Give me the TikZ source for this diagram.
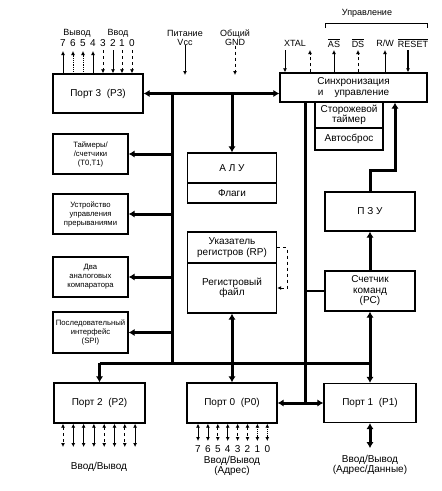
\documentclass[tikz,border=0pt]{standalone}
\usepackage{fontspec}
\setmainfont{Liberation Sans}
\usetikzlibrary{arrows.meta}

\tikzstyle{block}=[draw, line width=1.4pt, inner sep=0pt, align=center, font=\fontsize{10}{10.5}\selectfont]
\tikzstyle{side-block}=[block, minimum width=75pt, minimum height=40pt, font=\fontsize{7.7}{9}\selectfont]
\tikzstyle{pin-label}=[inner sep=0pt, font=\fontsize{10}{10}\selectfont]
\tikzstyle{top-label}=[inner sep=0pt, align=center, font=\fontsize{9}{9}\selectfont]
\tikzstyle{bus}=[line width=3pt]
\tikzstyle{bus-in}=[-{Latex[length=6pt,width=7.5pt]}]
\tikzstyle{bus-both}=[{Latex[length=6pt,width=7.5pt]}-{Latex[length=6pt,width=7.5pt]}]
\tikzstyle{pin}=[line width=0.8pt]

\begin{document}
\begin{tikzpicture}[x=1pt, y=-1pt, >={Latex[length=4pt,width=4pt]}]
      \useasboundingbox (0,0) rectangle (442,491);

      % port 3 and the peripheral blocks on the left
      \node (port3) at (98,93.5) [block, minimum width=90pt, minimum height=39pt] {Порт 3\ \ (P3)};
      \node (timers) at (90.5,154) [side-block] {Таймеры/\\/счетчики\\(T0,T1)};
      \node (irq) at (90.5,214) [side-block] {Устройство\\управления\\прерываниями};
      \node (comp) at (90.5,277) [side-block] {Два\\аналоговых\\компаратора};
      \node (spi) at (90.5,332.5) [side-block, minimum height=41pt] {Последовательный\\интерфейс\\(SPI)};

      % core
      \node (alu) at (232,168) [block, minimum width=89pt, minimum height=30pt] {А\ Л\ У};
      \node (flags) at (232,193) [block, minimum width=89pt, minimum height=20pt] {Флаги};
      \node (rp) at (232,247.5) [block, minimum width=89pt, minimum height=31pt] {Указатель\\регистров (RP)};
      \node (regfile) at (232,288) [block, minimum width=89pt, minimum height=50pt] {Регистровый\\файл};

      % control side
      \node (sync) at (353.5,87.5) [block, minimum width=147pt, minimum height=29pt] {Синхронизация\\и\ \ \ \ управление};
      \node (wdt) at (349,115) [block, minimum width=68pt, minimum height=26pt] {Сторожевой\\таймер};
      \node (autoreset) at (349,139) [block, minimum width=68pt, minimum height=22pt] {Автосброс};
      \node (rom) at (370,211.5) [block, minimum width=90pt, minimum height=39pt] {П\ З\ У};
      \node (pc) at (370,291) [block, minimum width=90pt, minimum height=40pt] {Счетчик\\команд\\(PC)};

      % ports at the bottom
      \node (port2) at (99.5,403) [block, minimum width=91pt, minimum height=40pt] {Порт 2\ \ (P2)};
      \node (port0) at (232,403) [block, minimum width=90pt, minimum height=40pt] {Порт 0\ \ (P0)};
      \node (port1) at (370,403) [block, minimum width=92pt, minimum height=39pt] {Порт 1\ \ (P1)};

      % buses
      \coordinate (bus-top) at (172,93.5);
      \coordinate (bus-low) at (172,363);
      \coordinate (bus-right) at (305,403);
      \coordinate (rom-bend) at (395,170);
      \draw[bus, bus-both] (port3.east) -- (port3.east -| sync.west);
      \draw[bus] (bus-top) -- (bus-low);
      \draw[bus, bus-in] (bus-top |- timers.east) -- (timers.east);
      \draw[bus, bus-in] (bus-top |- irq.east) -- (irq.east);
      \draw[bus, bus-in] (bus-top |- comp.east) -- (comp.east);
      \draw[bus, bus-in] (bus-top |- spi.east) -- (spi.east);
      \draw[bus, bus-in] (alu.north |- bus-top) -- (alu.north);
      \draw[bus] (port2.north |- bus-low) -- (pc.south |- bus-low);
      \draw[bus, bus-in] (port2.north |- bus-low) -- (port2.north);
      \draw[bus, bus-both] (regfile.south) -- (port0.north);
      \draw[bus] (bus-right |- sync.south) -- (bus-right);
      \draw[bus, bus-both] (port0.east) -- (port1.west);
      \draw[line width=1.8pt] (bus-right |- pc.west) -- (pc.west);
      \draw[bus, bus-in] (pc.north) -- (rom.south);
      \draw[bus, bus-both] (pc.south) -- (port1.north);
      \draw[bus, bus-in] (rom.north) |- (rom-bend) -- (rom-bend |- sync.south);
      \draw[pin, dashed, ->] (rp.east) -- ++(10,0) |- (regfile.east);

      % port 3 pins
      \node (lbl-out3) at (77,33) [top-label] {Вывод};
      \node (lbl-in3) at (118,33) [top-label] {Ввод};
      \foreach \d/\x/\s in {7/63/solid, 6/73/densely dotted, 5/83/densely dotted, 4/93/solid}{
        \node (num3-\d) at (\x,43) [pin-label] {\d};
        \coordinate (pin3-\d) at (\x,51);
        \draw[pin, \s, ->] (pin3-\d |- port3.north) -- (pin3-\d);
      }
      \foreach \d/\x/\s in {3/103/dashed, 2/113/solid, 1/122/dashed, 0/132/dashed}{
        \node (num3-\d) at (\x,43) [pin-label] {\d};
        \coordinate (pin3-\d) at (\x,50);
        \draw[pin, \s, ->] (pin3-\d) -- (pin3-\d |- port3.north);
      }

      % supply
      \node (lbl-vcc) at (185,37.5) [top-label] {Питание\\Vcc};
      \node (lbl-gnd) at (235,37.5) [top-label] {Общий\\GND};
      \coordinate (vcc-in) at (185,75);
      \coordinate (gnd-in) at (235,75);
      \draw[pin, ->] (lbl-vcc.south) -- (vcc-in);
      \draw[pin, dashed, ->] (lbl-gnd.south) -- (gnd-in);

      % control signals
      \node (lbl-ctrl) at (367,13) [top-label] {Управление};
      \draw[pin] (325,28) -- (325,23) -- (427,23) -- (427,28);
      \node (lbl-xtal) at (295,43) [top-label] {XTAL};
      \node (lbl-as) at (334,43) [top-label] {$\overline{\mbox{AS}}$};
      \node (lbl-ds) at (358,43) [top-label] {$\overline{\mbox{DS}}$};
      \node (lbl-rw) at (385,43) [top-label] {R/W};
      \node (lbl-reset) at (413,43) [top-label] {$\overline{\mbox{RESET}}$};
      \coordinate (xtal-in) at (285,50);
      \coordinate (xtal-out) at (310,50);
      \coordinate (as-out) at (334,50);
      \coordinate (ds-out) at (358,50);
      \coordinate (rw-out) at (385,50);
      \coordinate (reset-in) at (408,50);
      \draw[pin, ->] (xtal-in) -- (xtal-in |- sync.north);
      \draw[pin, dashed, ->] (xtal-out |- sync.north) -- (xtal-out);
      \draw[pin, ->] (as-out |- sync.north) -- (as-out);
      \draw[pin, dashed, ->] (ds-out |- sync.north) -- (ds-out);
      \draw[pin, ->] (rw-out |- sync.north) -- (rw-out);
      \draw[line width=1.5pt, ->] (reset-in) -- (reset-in |- sync.north);

      % port 2 pins
      \foreach \k/\s in {0/dashed, 1/solid, 2/solid, 3/solid, 4/dashed, 5/solid, 6/dashed, 7/solid}{
        \coordinate (pin2-\k) at ({63+10.3*\k},447);
        \draw[pin, \s, <->] (pin2-\k |- port2.south) -- (pin2-\k);
      }
      \node (lbl-p2) at (99,467) [top-label, font=\fontsize{10}{10}\selectfont] {Ввод/Вывод};

      % port 0 pins
      \foreach \d/\k/\s in {7/0/solid, 6/1/solid, 5/2/dashed, 4/3/solid, 3/4/dashed, 2/5/dashed, 1/6/densely dotted, 0/7/densely dotted}{
        \coordinate (pin0-\d) at ({198+9.9*\k},441);
        \draw[pin, \s, <->] (pin0-\d |- port0.south) -- (pin0-\d);
        \node (num0-\d) at ({198+9.9*\k},449) [pin-label] {\d};
      }
      \node (lbl-p0) at (232,466) [top-label, font=\fontsize{10}{9}\selectfont] {Ввод/Вывод\\(Адрес)};

      % port 1
      \coordinate (port1-out) at (370,448);
      \draw[bus, bus-both] (port1.south) -- (port1-out);
      \node (lbl-p1) at (370,465) [top-label, font=\fontsize{10}{9}\selectfont] {Ввод/Вывод\\(Адрес/Данные)};
    \end{tikzpicture}
\end{document}
